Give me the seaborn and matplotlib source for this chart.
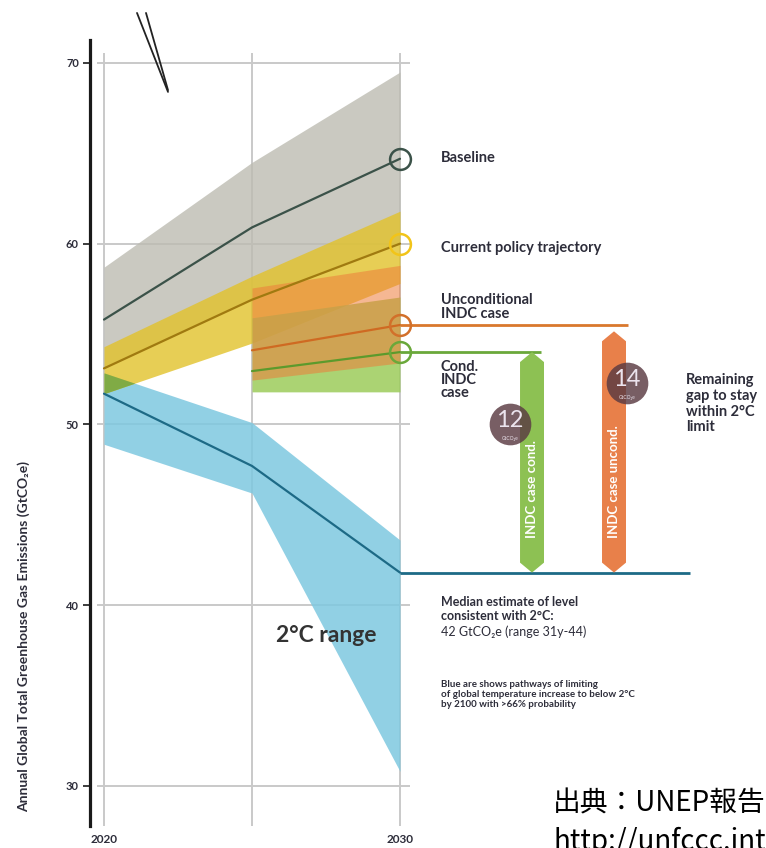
import matplotlib
matplotlib.use("Agg")
import numpy as np
import pandas as pd
import seaborn as sns
import matplotlib.pyplot as plt
from matplotlib.patches import Polygon

# ---------------- data ----------------
years = [2020, 2025, 2030]
indc_years = [2025, 2030]

baseline = [55.8, 60.9, 64.7]
baseline_hi = [58.7, 64.5, 69.5]
baseline_lo = [53.1, 56.9, 60.0]

policy = [53.1, 56.9, 60.0]
policy_hi = [54.3, 58.2, 61.8]
policy_lo = [51.7, 54.5, 57.8]

uncond = [54.1, 55.5]
uncond_hi = [57.55, 58.8]
uncond_lo = [52.45, 53.4]

cond = [52.95, 54.0]
cond_hi = [55.9, 57.05]
cond_lo = [51.8, 51.8]

two_deg = [51.7, 47.7, 41.8]
two_deg_hi = [52.85, 50.1, 43.6]
two_deg_lo = [48.9, 46.2, 30.8]

y_ticks = [30, 40, 50, 60, 70]
x_ticks = [2020, 2030]
x_tick_labels = ["2020", "2030"]
gap_labels = ["12", "14"]

# ---------------- style ----------------
sns.set_theme(style="white")
plt.rcParams["font.family"] = ["Lato", "Noto Sans CJK JP", "DejaVu Sans"]

TXT = "#2d2d3a"
fig = plt.figure(figsize=(7.66, 8.48), dpi=100)
ax = fig.add_axes([90 / 766, 22 / 848, 676 / 766, 826 / 848])
ax.set_xlim(2019.527, 2042.365)
ax.set_ylim(27.775, 73.486)
ax.set_facecolor("none")

for s in ["top", "right", "bottom"]:
    ax.spines[s].set_visible(False)
ax.spines["left"].set_linewidth(2.3)
ax.spines["left"].set_color("#1a1a1a")
ax.spines["left"].set_bounds(27.775, 71.27)

ax.set_yticks(y_ticks)
ax.set_yticklabels([str(v) for v in y_ticks], fontsize=8, fontweight="bold", color=TXT)
ax.tick_params(axis="y", direction="out", length=5, width=1.2, color="#1a1a1a", pad=3, left=True)
ax.set_xticks(x_ticks)
ax.set_xticklabels(x_tick_labels, fontsize=8.5, fontweight="bold", color=TXT)
ax.tick_params(axis="x", length=0, pad=6)
ax.grid(False)

# grid lines
GRID = "#c9c9c9"
ax.hlines(y_ticks, 2019.76, 2030.34, color=GRID, lw=1.4, zorder=0)
ax.vlines(years, 27.775, 70.55, color=GRID, lw=1.4, zorder=0)

# axis break marks
ax.plot([2021.115, 2022.162], [72.77, 68.40], color="#222222", lw=1.3, clip_on=False)
ax.plot([2021.419, 2022.162], [72.77, 68.50], color="#222222", lw=1.3, clip_on=False)

# ---------------- bands ----------------
ax.fill_between(years, two_deg_lo, two_deg_hi, color="#7ec8e0", alpha=0.85, lw=0, zorder=1)
ax.fill_between(years, baseline_lo, baseline_hi, color="#bdbcb2", alpha=0.8, lw=0, zorder=2)
ax.fill_between(years, policy_lo, policy_hi, color="#e2c22a", alpha=0.8, lw=0, zorder=3)

# overlap of the current-policy band with the 2°C band (multiplied colours)
xg = np.linspace(years[0], years[-1], 400)
ov_top = np.minimum(np.interp(xg, years, policy_hi), np.interp(xg, years, two_deg_hi))
ov_bot = np.maximum(np.interp(xg, years, policy_lo), np.interp(xg, years, two_deg_lo))
ax.fill_between(xg, ov_bot, ov_top, where=ov_top > ov_bot, color="#80ab45", lw=0, zorder=3.5)

ax.fill_between(indc_years, cond_lo, cond_hi, color="#9ccc5a", alpha=0.85, lw=0, zorder=4)
ax.fill_between(indc_years, uncond_lo, uncond_hi, color="#ee7d3a", alpha=0.55, lw=0, zorder=5)

# ---------------- lines ----------------
sns.lineplot(x=years, y=baseline, color="#3b5249", lw=1.6, ax=ax, zorder=6)
sns.lineplot(x=years, y=policy, color="#a07a10", lw=1.6, ax=ax, zorder=6)
sns.lineplot(x=indc_years, y=uncond, color="#cf6a22", lw=1.6, ax=ax, zorder=6)
sns.lineplot(x=indc_years, y=cond, color="#5c9a2c", lw=1.6, ax=ax, zorder=6)
sns.lineplot(x=years, y=two_deg, color="#1d6a86", lw=1.6, ax=ax, zorder=6)

# horizontal reference lines from 2030
ax.hlines(uncond[-1], 2030, 2037.7, color="#d9782d", lw=2.0, zorder=6)
ax.hlines(cond[-1], 2030, 2034.76, color="#6aa83a", lw=2.0, zorder=6)
ax.hlines(two_deg[-1], 2030, 2039.8, color="#1d6a86", lw=2.0, zorder=6)

# end circles
for val, col in [(baseline[-1], "#3b5249"), (policy[-1], "#f2c418"),
                 (uncond[-1], "#d2702a"), (cond[-1], "#6aa83a")]:
    ax.plot([2030], [val], marker="o", ms=15, mfc="none", mec=col, mew=1.8, zorder=7)

# ---------------- gap bars ----------------
def gap_bar(xc, top, bottom, color, label):
    w = 0.81 / 2
    tip = 0.55
    pts = [(xc - w, top - tip), (xc, top), (xc + w, top - tip),
           (xc + w, bottom + tip), (xc, bottom), (xc - w, bottom + tip)]
    ax.add_patch(Polygon(pts, closed=True, fc=color, ec="none", zorder=8))
    ax.text(xc, 43.71, label, rotation=90, ha="center", va="bottom", color="white",
            fontsize=9.5, fontweight="bold", zorder=9)

gap_bar(2034.46, cond[-1], two_deg[-1], "#8dc153", "INDC case cond.")
gap_bar(2037.23, uncond[-1] - 0.35, two_deg[-1], "#e8804a", "INDC case uncond.")

# badges
for (bx, by), lab in zip([(2033.72, 50.0), (2037.67, 52.29)], gap_labels):
    ax.scatter([bx], [by], s=900, color="#5a3a42", alpha=0.82, lw=0, zorder=10)
    ax.text(bx, by + 0.2, lab, ha="center", va="center", color="#ece4ee", fontsize=17, zorder=11)
    ax.text(bx, by - 0.8, "GtCO₂e", ha="center", va="center", color="#ece4ee", fontsize=3.5, zorder=11)

# ---------------- labels ----------------
LX = 2031.385
kw = dict(ha="left", va="center", color=TXT, fontweight="bold", fontsize=10.5)
ax.text(LX, 64.74, "Baseline", **kw)
ax.text(LX, 59.76, "Current policy trajectory", **kw)
ax.text(LX, 56.5, "Unconditional\nINDC case", linespacing=0.95, **kw)
ax.text(LX, 52.46, "Cond.\nINDC\ncase", linespacing=0.9, **kw)
ax.text(2039.66, 51.13, "Remaining\ngap to stay\nwithin 2°C\nlimit", linespacing=1.15, **kw)

ax.text(LX, 39.76, "Median estimate of level\nconsistent with 2°C:", ha="left", va="center",
        color=TXT, fontweight="bold", fontsize=9, linespacing=1.2)
ax.text(LX, 38.51, "42 GtCO₂e (range 31y-44)", ha="left", va="center", color=TXT, fontsize=9)
ax.text(LX, 35.05, "Blue are shows pathways of limiting\nof global temperature increase to below 2°C\nby 2100 with >66% probability",
        ha="left", va="center", color=TXT, fontweight="bold", fontsize=7, linespacing=1.18)

ax.text(2027.5, 38.29, "2°C range", ha="center", va="center", color="#333333",
        fontweight="bold", fontsize=16.5, zorder=12)

fig.text(24 / 766, 1 - 637 / 848, "Annual Global Total Greenhouse Gas Emissions (GtCO₂e)",
         rotation=90, ha="center", va="center", color=TXT, fontweight="bold", fontsize=10)

fig.text(553 / 766, 1 - 811 / 848, "出典：UNEP報告", ha="left", va="baseline",
         color="black", fontsize=20, family=["Noto Sans CJK JP", "DejaVu Sans"])
fig.text(553 / 766, 1 - 850 / 848, "http://unfccc.int", ha="left", va="baseline",
         color="black", fontsize=20, family=["Noto Sans CJK JP", "DejaVu Sans"])

fig.savefig("out.png", dpi=100)
